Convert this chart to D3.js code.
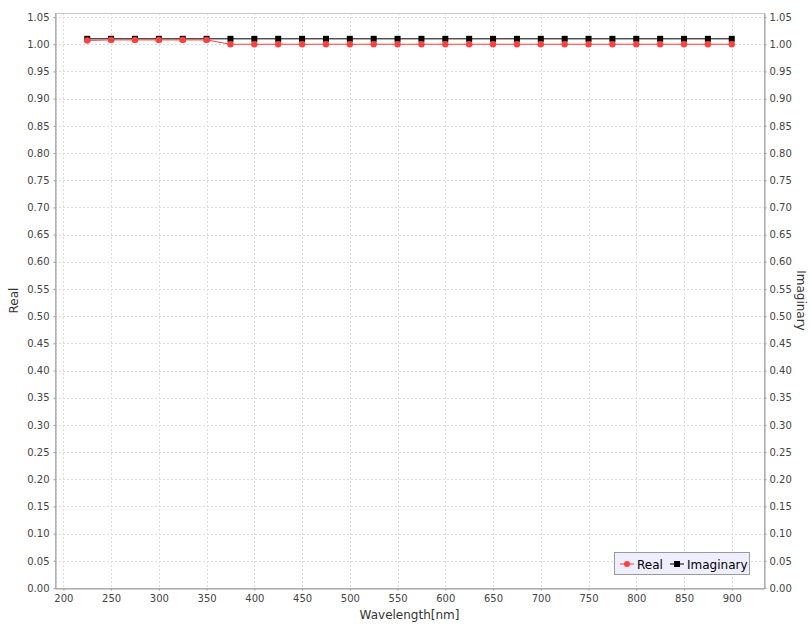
<!DOCTYPE html>
<html>
<head>
<meta charset="utf-8">
<script src="https://cdn.jsdelivr.net/npm/d3@7"></script>
<style>
  html, body { margin: 0; padding: 0; background: #fff; }
  svg { display: block; }
  text { font-family: "DejaVu Sans", sans-serif; }
</style>
</head>
<body>
<svg id="chart" width="811" height="625"></svg>
<script>
// Wavelength samples (nm)
const wavelengths = [225, 250, 275, 300, 325, 350, 375, 400, 425, 450, 475, 500, 525, 550,
                     575, 600, 625, 650, 675, 700, 725, 750, 775, 800, 825, 850, 875, 900];
// Real part of the index
const realValues = [1.007, 1.008, 1.008, 1.008, 1.008, 1.008, 1.000, 1.000, 1.000, 1.000,
                    1.000, 1.000, 1.000, 1.000, 1.000, 1.000, 1.000, 1.000, 1.000, 1.000,
                    1.000, 1.000, 1.000, 1.000, 1.000, 1.000, 1.000, 1.000];
// Imaginary part of the index
const imagValues = [1.010, 1.010, 1.010, 1.010, 1.010, 1.010, 1.010, 1.010, 1.010, 1.010,
                    1.010, 1.010, 1.010, 1.010, 1.010, 1.010, 1.010, 1.010, 1.010, 1.010,
                    1.010, 1.010, 1.010, 1.010, 1.010, 1.010, 1.010, 1.010];
// Axis ticks
const xTicks = [200, 250, 300, 350, 400, 450, 500, 550, 600, 650, 700, 750, 800, 850, 900];
const yTicks = [0, 0.05, 0.10, 0.15, 0.20, 0.25, 0.30, 0.35, 0.40, 0.45, 0.50, 0.55, 0.60,
                0.65, 0.70, 0.75, 0.80, 0.85, 0.90, 0.95, 1.00, 1.05];

const svg = d3.select("#chart");
const plot = { left: 55, right: 764, top: 13, bottom: 588 };

const x = d3.scaleLinear().domain([191.25, 933.75]).range([plot.left, plot.right]);
const yLeft = d3.scaleLinear().domain([0, 1.0575]).range([plot.bottom, plot.top]);
const yRight = d3.scaleLinear().domain([0, 1.0575]).range([plot.bottom, plot.top]);

// Plot background
svg.append("rect")
  .attr("x", plot.left).attr("y", plot.top)
  .attr("width", plot.right - plot.left).attr("height", plot.bottom - plot.top)
  .attr("fill", "#ffffff");

// Grid lines
const grid = svg.append("g").attr("stroke", "#dcdcdc").attr("stroke-width", 1)
  .attr("stroke-dasharray", "2,2").attr("shape-rendering", "crispEdges");
grid.selectAll("line.gx").data(xTicks).join("line")
  .attr("x1", d => Math.round(x(d)) + 0.5).attr("x2", d => Math.round(x(d)) + 0.5)
  .attr("y1", plot.top).attr("y2", plot.bottom);
grid.selectAll("line.gy").data(yTicks).join("line")
  .attr("y1", d => Math.round(yLeft(d)) + 0.5).attr("y2", d => Math.round(yLeft(d)) + 0.5)
  .attr("x1", plot.left).attr("x2", plot.right);

// Plot outline
svg.append("rect")
  .attr("x", plot.left + 0.5).attr("y", plot.top + 0.5)
  .attr("width", plot.right - plot.left).attr("height", plot.bottom - plot.top)
  .attr("fill", "none").attr("stroke", "#c8c8c8");

// Axes
const fmt = d3.format(".2f");
function styleAxis(g) {
  g.selectAll(".domain").attr("stroke", "#9a9a9a");
  g.selectAll(".tick line").attr("stroke", "#9a9a9a");
  g.selectAll(".tick text").attr("fill", "#444").attr("font-size", "10px")
    .attr("font-family", "'DejaVu Sans', sans-serif");
}
svg.append("g").attr("transform", `translate(0,${plot.bottom + 0.5})`)
  .call(d3.axisBottom(x).tickValues(xTicks).tickSize(2).tickSizeOuter(0).tickPadding(4))
  .call(styleAxis);
svg.append("g").attr("transform", `translate(${plot.left + 0.5},0)`)
  .call(d3.axisLeft(yLeft).tickValues(yTicks).tickFormat(fmt).tickSize(2).tickSizeOuter(0).tickPadding(4))
  .call(styleAxis);
svg.append("g").attr("transform", `translate(${plot.right + 0.5},0)`)
  .call(d3.axisRight(yRight).tickValues(yTicks).tickFormat(fmt).tickSize(2).tickSizeOuter(0).tickPadding(3))
  .call(styleAxis);

// Axis titles
svg.append("text").attr("x", (plot.left + plot.right) / 2).attr("y", 619)
  .attr("text-anchor", "middle").attr("font-size", "12px").attr("fill", "#333")
  .text("Wavelength[nm]");
svg.append("text").attr("transform", `translate(18,${(plot.top + plot.bottom) / 2}) rotate(-90)`)
  .attr("text-anchor", "middle").attr("font-size", "12px").attr("fill", "#333")
  .text("Real");
svg.append("text").attr("transform", `translate(797,${(plot.top + plot.bottom) / 2}) rotate(90)`)
  .attr("text-anchor", "middle").attr("font-size", "12px").attr("fill", "#333")
  .text("Imaginary");

// Series
const imagData = wavelengths.map((w, i) => ({ w, v: imagValues[i] }));
const realData = wavelengths.map((w, i) => ({ w, v: realValues[i] }));

const imagLine = d3.line().x(d => x(d.w)).y(d => yRight(d.v));
const realLine = d3.line().x(d => x(d.w)).y(d => yLeft(d.v));

svg.append("path").datum(imagData).attr("d", imagLine)
  .attr("fill", "none").attr("stroke", "#000").attr("stroke-width", 1);
svg.append("g").selectAll("rect").data(imagData).join("rect")
  .attr("x", d => x(d.w) - 3).attr("y", d => yRight(d.v) - 3)
  .attr("width", 6).attr("height", 6).attr("fill", "#000");

svg.append("path").datum(realData).attr("d", realLine)
  .attr("fill", "none").attr("stroke", "#ff4040").attr("stroke-width", 1);
svg.append("g").selectAll("circle").data(realData).join("circle")
  .attr("cx", d => x(d.w)).attr("cy", d => yLeft(d.v)).attr("r", 3.2)
  .attr("fill", "#ff4040");

// Legend
const legend = svg.append("g").attr("transform", "translate(614,552)");
legend.append("rect").attr("x", 0.5).attr("y", 0.5).attr("width", 135).attr("height", 22)
  .attr("fill", "#eeeeff").attr("stroke", "#9a9a9a");
legend.append("line").attr("x1", 6).attr("x2", 20).attr("y1", 12).attr("y2", 12)
  .attr("stroke", "#ff4040");
legend.append("circle").attr("cx", 13).attr("cy", 12).attr("r", 3).attr("fill", "#ff4040");
legend.append("text").attr("x", 23).attr("y", 16.5).attr("font-size", "12px").attr("fill", "#000")
  .text("Real");
legend.append("line").attr("x1", 56).attr("x2", 70).attr("y1", 12).attr("y2", 12)
  .attr("stroke", "#000");
legend.append("rect").attr("x", 60).attr("y", 9).attr("width", 6).attr("height", 6).attr("fill", "#000");
legend.append("text").attr("x", 73).attr("y", 16.5).attr("font-size", "12px").attr("fill", "#000")
  .text("Imaginary");
</script>
</body>
</html>
